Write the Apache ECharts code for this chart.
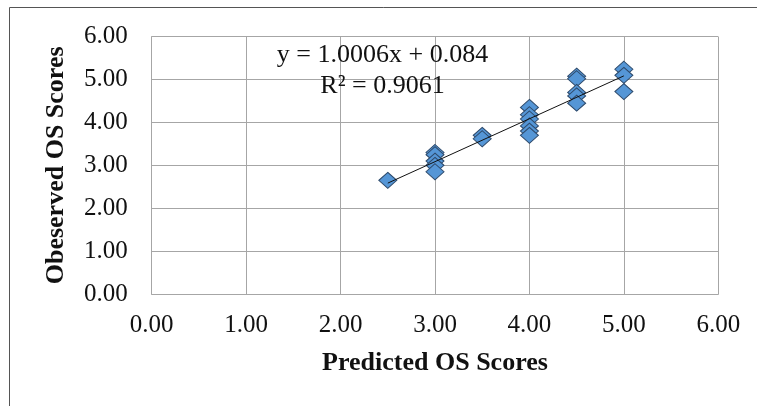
<!DOCTYPE html>
<html>
<head>
<meta charset="utf-8">
<script src="https://cdn.jsdelivr.net/npm/echarts@6/dist/echarts.min.js"></script>
<style>
html,body{margin:0;padding:0;background:#fff;}
#c{width:757px;height:406px;}
</style>
</head>
<body>
<div id="c"></div>
<script>
var predicted = [2.5, 3.0, 3.0, 3.0, 3.0, 3.0, 3.5, 3.5, 4.0, 4.0, 4.0, 4.0, 4.0, 4.0, 4.5, 4.5, 4.5, 4.5, 4.5, 5.0, 5.0, 5.0];
var observed  = [2.65, 3.30, 3.25, 3.10, 3.00, 2.85, 3.70, 3.62, 4.35, 4.18, 4.08, 3.92, 3.80, 3.70, 5.08, 5.02, 4.70, 4.62, 4.45, 5.24, 5.10, 4.72];
var trendSlope = 1.0006;
var trendIntercept = 0.084;
var trendRange = [2.5, 5.0];
var equationText = 'y = 1.0006x + 0.084';
var r2Text = 'R² = 0.9061';
var xTitle = 'Predicted OS Scores';
var yTitle = 'Obeserved OS Scores';

var points = predicted.map(function (x, i) { return [x, observed[i]]; });
var trend = trendRange.map(function (x) { return [x, trendSlope * x + trendIntercept]; });

var FONT = 'Liberation Serif';
var gridColor = '#A6A6A6';

var chart = echarts.init(document.getElementById('c'), null, {renderer: 'canvas'});
chart.setOption({
  animation: false,
  backgroundColor: '#fff',
  textStyle: {fontFamily: FONT},
  grid: {left: 151.7, right: 38.7, top: 36.7, bottom: 112, containLabel: false},
  xAxis: {
    type: 'value', min: 0, max: 6, interval: 1,
    name: xTitle, nameLocation: 'middle', nameGap: 56,
    nameTextStyle: {fontFamily: FONT, fontSize: 26, fontWeight: 'bold', color: '#111'},
    axisLine: {show: true, lineStyle: {color: gridColor, width: 1}},
    axisTick: {show: false},
    splitLine: {show: true, lineStyle: {color: gridColor, width: 1}},
    axisLabel: {fontFamily: FONT, fontSize: 25, color: '#111', margin: 19,
      formatter: function (v) { return v.toFixed(2); }}
  },
  yAxis: {
    type: 'value', min: 0, max: 6, interval: 1,
    name: yTitle, nameLocation: 'middle', nameGap: 82, nameRotate: 90,
    nameTextStyle: {fontFamily: FONT, fontSize: 26, fontWeight: 'bold', color: '#111'},
    axisLine: {show: true, lineStyle: {color: gridColor, width: 1}},
    axisTick: {show: false},
    splitLine: {show: true, lineStyle: {color: gridColor, width: 1}},
    axisLabel: {fontFamily: FONT, fontSize: 25, color: '#111', margin: 24,
      formatter: function (v) { return v.toFixed(2); }}
  },
  series: [
    {
      type: 'scatter',
      data: points,
      symbol: 'diamond',
      symbolSize: [18, 16],
      itemStyle: {color: '#5596D6', borderColor: '#2E4A6B', borderWidth: 1, opacity: 1},
      z: 2
    },
    {
      type: 'line',
      data: trend,
      symbol: 'none',
      lineStyle: {color: '#111', width: 1},
      z: 3
    }
  ],
  graphic: [
    {type: 'rect', shape: {x: 9.5, y: 7.5, width: 900, height: 600}, style: {fill: 'none', stroke: '#555', lineWidth: 1}, z: -10, silent: true},
    {type: 'text', x: 382.5, y: 55, style: {text: equationText, font: '26px "Liberation Serif"', fill: '#111', align: 'center', verticalAlign: 'middle'}, z: 10},
    {type: 'text', x: 382.5, y: 86, style: {text: r2Text, font: '26px "Liberation Serif"', fill: '#111', align: 'center', verticalAlign: 'middle'}, z: 10}
  ]
});
</script>
</body>
</html>
